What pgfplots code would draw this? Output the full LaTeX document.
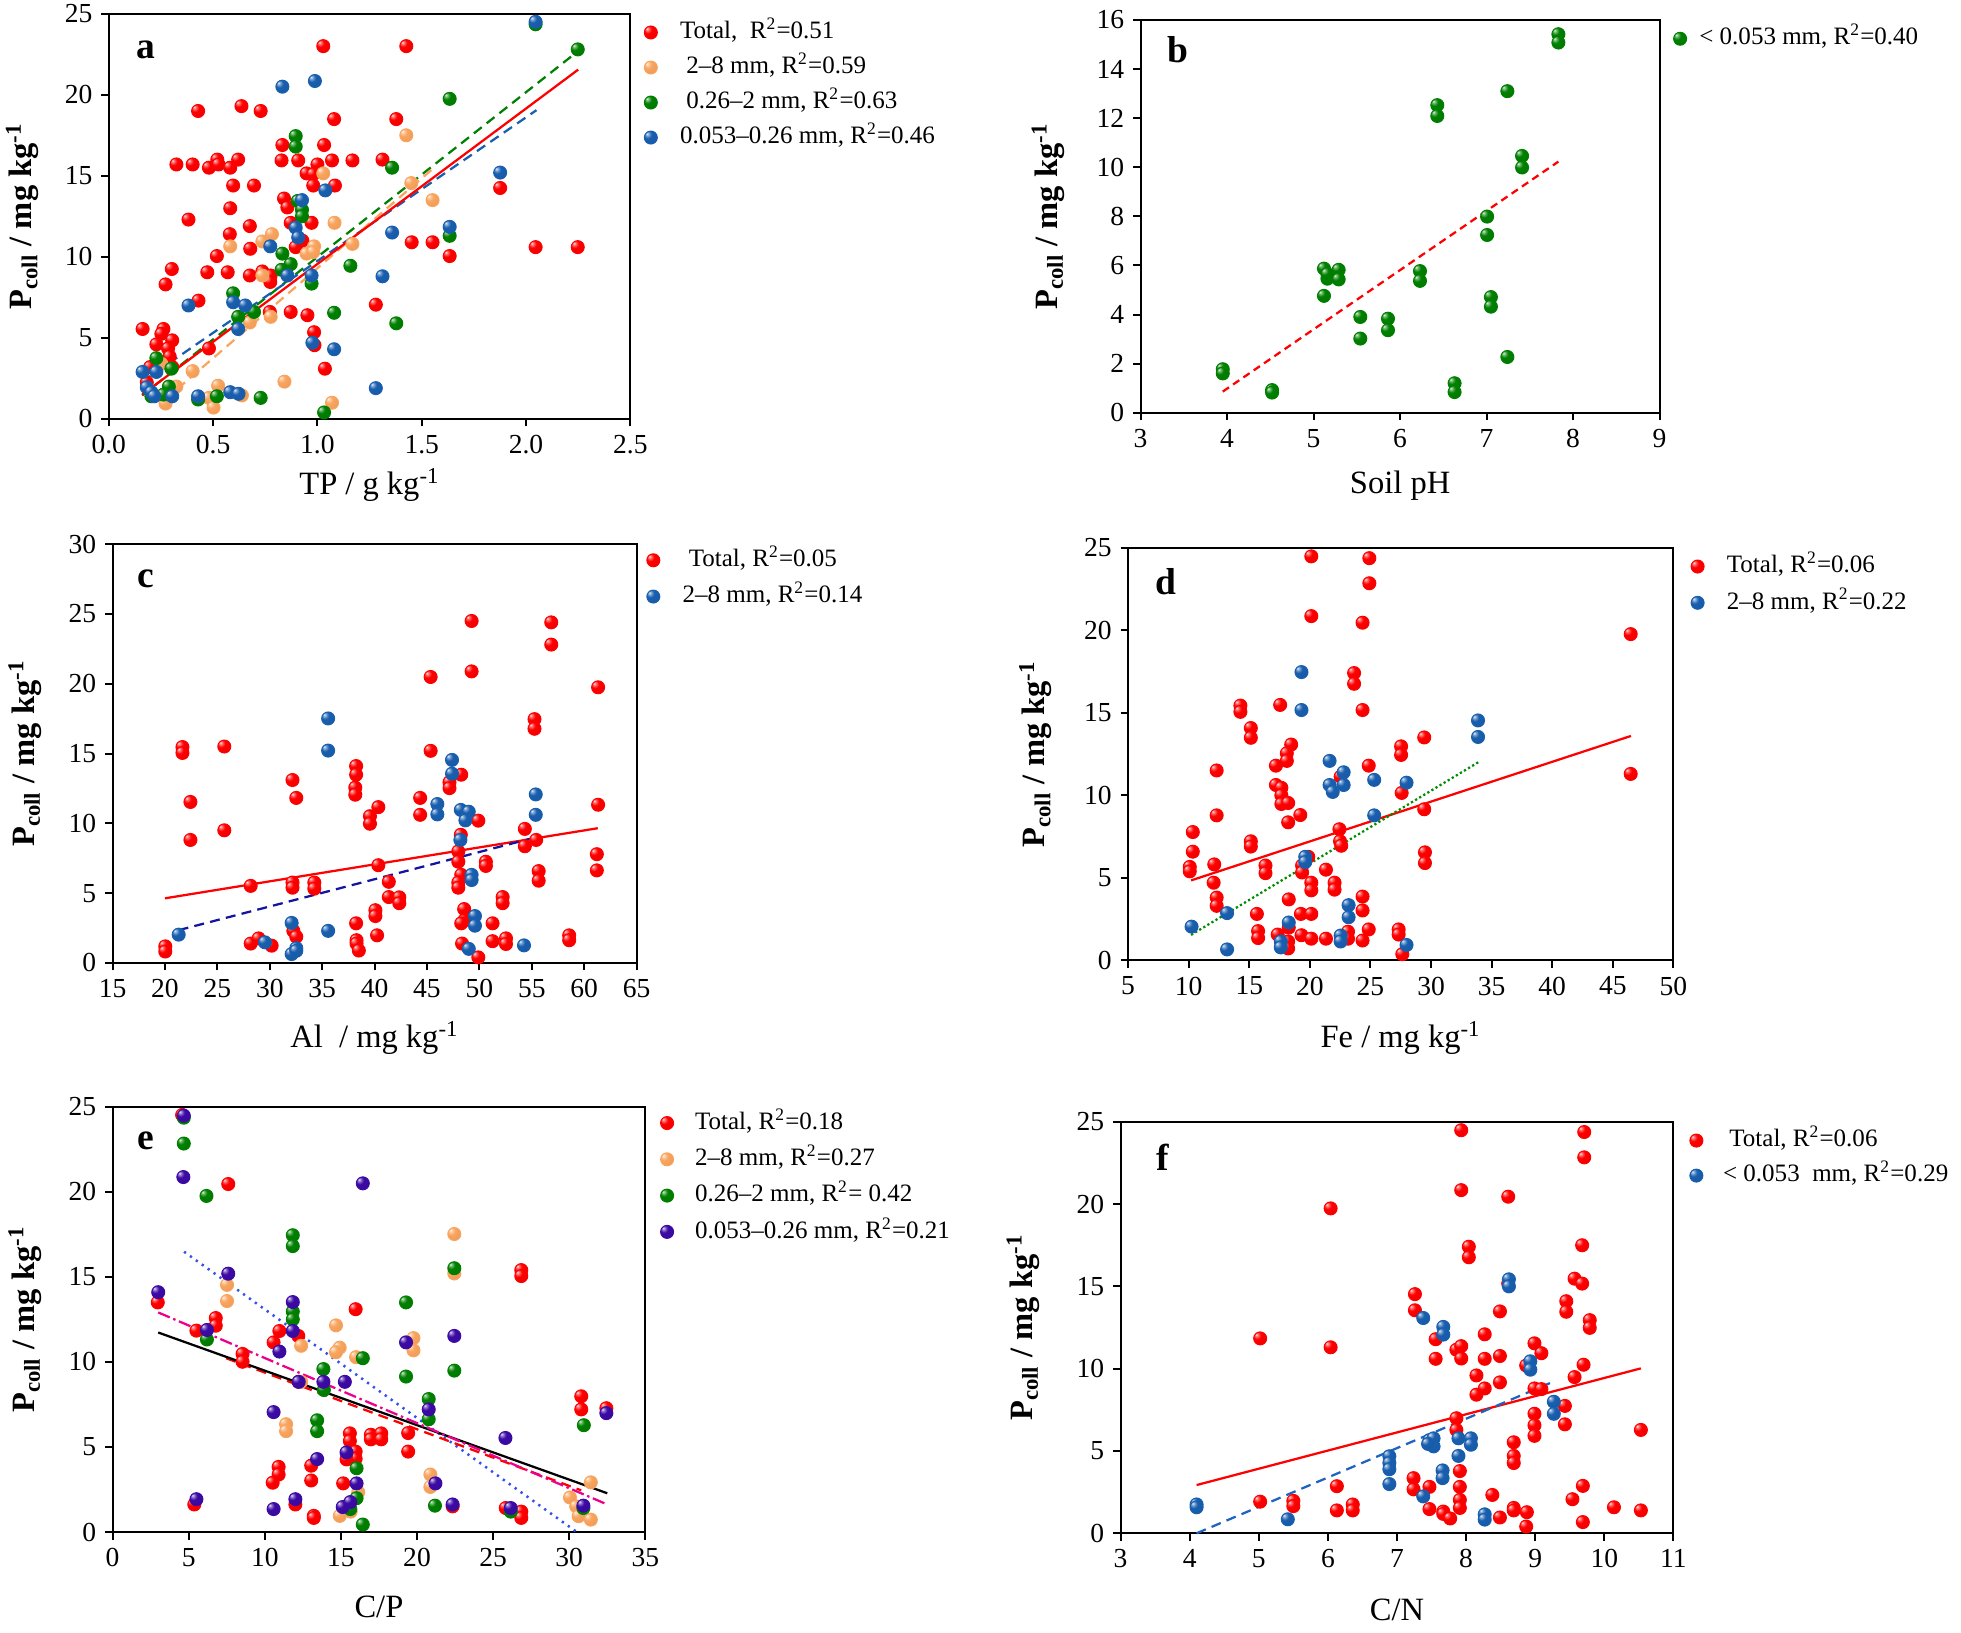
\documentclass[border=0pt]{standalone}
\usepackage{pgfplots}
\pgfplotsset{compat=1.18}
\usepackage{fontspec}
\setmainfont{Liberation Serif}
\makeatletter
\pgfdeclareradialshading[tikz@ball]{ball}{\pgfqpoint{-15bp}{15bp}}{color(0bp)=(tikz@ball!12!white); color(6bp)=(tikz@ball!55!white); color(15bp)=(tikz@ball); color(40bp)=(tikz@ball!93!black); color(60bp)=(tikz@ball!78!black); color(80bp)=(tikz@ball!72!black)}
\makeatother
\definecolor{cR}{RGB}{255,0,0}
\definecolor{cO}{RGB}{250,165,95}
\definecolor{cG}{RGB}{0,128,0}
\definecolor{cB}{RGB}{25,95,175}
\definecolor{cP}{RGB}{60,10,165}
\definecolor{lNavy}{RGB}{20,20,160}
\definecolor{lGreen}{RGB}{0,140,0}
\definecolor{lBlueE}{RGB}{50,80,235}
\definecolor{lBlueF}{RGB}{30,100,190}
\pgfplotsset{
  panel/.style={scale only axis, axis line style={line width=0.8pt},
    tick align=outside, tick pos=left, major tick length=3pt,
    tick style={line width=0.8pt, black},
    /pgf/number format/assume math mode=true,
    tick label style={font=\fontsize{11}{13}\selectfont},
    xlabel style={font=\fontsize{13}{15}\selectfont, anchor=center},
    ylabel style={font=\bfseries\fontsize{13}{15}\selectfont, anchor=center},
    legend cell align=left,
    legend style={draw=none, fill=none, anchor=north west, inner sep=0pt, outer sep=0pt,
      font=\fontsize{10}{12}\selectfont, row sep=5pt, column sep=8.5pt,
      nodes={inner sep=0pt, text height=7pt, text depth=2pt}},
    clip=false},
  scat/.style={only marks, mark=ball, mark size=2.6pt, color=#1, mark options={ball color=#1},
    legend image code/.code={\draw[##1] plot coordinates {(0pt,0pt)}; \path (-3pt,0pt) (3pt,0pt);}},
  fit/.style={no marks, line width=0.9pt, color=#1, forget plot},
}
\begin{document}
\begin{tikzpicture}
\useasboundingbox (0,0) rectangle (784pt,652.5pt);
% ---------------- a
\begin{axis}[panel, at={(43.5pt,485pt)}, anchor=south west, width=208.5pt, height=162pt,
  xmin=0, xmax=2.5, ymin=0, ymax=25, xtick={0,0.5,...,2.5}, ytick={0,5,...,25},
  xticklabel style={/pgf/number format/.cd, fixed, fixed zerofill, precision=1},
  xlabel={TP / g kg\textsuperscript{-1}}, ylabel={P\textsubscript{coll} / mg kg\textsuperscript{-1}},
  xlabel style={at={([yshift=-26.5pt]rel axis cs:0.5,0)}},
  ylabel style={at={([xshift=-34.5pt]rel axis cs:0,0.5)}},
  legend style={at={(1,1)}, xshift=5pt, yshift=-3pt}]
\addplot[scat=cR] coordinates {(1.028,23.0)(1.426,23.0)(0.636,19.3)(0.728,19.0)(0.428,19.0)(1.08,18.5)(1.378,18.5)(0.832,16.9)(1.032,16.9)(0.324,15.7)(0.402,15.7)(0.48,15.5)(0.52,16.0)(0.526,15.7)(0.582,15.5)(0.62,16.0)(0.828,15.95)(0.908,15.95)(1.0,15.7)(1.07,15.95)(1.168,15.95)(1.312,16.0)(0.948,15.15)(0.98,15.1)(0.596,14.4)(0.696,14.4)(0.98,14.4)(1.084,14.4)(0.84,13.6)(0.856,13.05)(0.582,13.0)(0.382,12.3)(0.972,12.1)(0.872,12.1)(0.676,11.9)(0.58,11.4)(0.928,11.0)(0.896,10.6)(0.678,10.5)(1.452,10.9)(1.552,10.9)(1.634,10.05)(2.046,10.6)(2.248,10.6)(1.876,14.25)(0.518,10.05)(0.302,9.25)(0.472,9.05)(0.57,9.05)(0.736,9.1)(0.776,8.85)(0.676,8.85)(0.774,8.45)(0.272,8.3)(0.43,7.3)(0.772,6.6)(0.872,6.6)(0.952,6.4)(1.28,7.05)(0.984,5.35)(0.986,4.55)(1.036,3.1)(0.162,5.55)(0.262,5.55)(0.252,5.25)(0.228,4.6)(0.304,4.85)(0.284,4.35)(0.292,3.85)(0.48,4.35)(0.198,3.2)(0.304,3.2)(0.182,2.25)};
\addlegendentry{Total,\ \ R\textsuperscript{2}=0.51}
\addplot[scat=cO] coordinates {(1.426,17.5)(1.028,15.15)(1.45,14.55)(1.552,13.5)(1.082,12.1)(0.736,10.95)(0.782,11.4)(0.582,10.65)(0.984,10.65)(0.948,10.2)(0.98,10.3)(1.168,10.8)(0.736,8.85)(0.776,6.3)(0.676,5.95)(0.402,2.95)(0.842,2.3)(0.524,2.05)(0.324,2.0)(0.638,1.45)(0.48,1.3)(0.502,0.7)(0.272,0.95)(1.07,1.0)(0.252,3.4)};
\addlegendentry{\ 2--8 mm, R\textsuperscript{2}=0.59}
\addplot[scat=cG] coordinates {(2.248,22.8)(2.046,24.35)(1.634,19.75)(0.896,17.45)(0.896,16.8)(1.358,15.5)(0.906,13.45)(0.926,12.9)(0.926,12.5)(0.832,10.2)(0.872,9.55)(0.828,9.2)(1.158,9.45)(0.972,8.35)(0.596,7.75)(1.634,11.3)(0.62,6.3)(0.696,6.6)(1.08,6.55)(1.378,5.9)(0.228,3.75)(0.288,2.0)(0.262,1.5)(0.204,1.4)(0.518,1.4)(0.728,1.3)(0.428,1.2)(1.032,0.4)(0.3,3.1)};
\addlegendentry{\ 0.26--2 mm, R\textsuperscript{2}=0.63}
\addplot[scat=cB] coordinates {(2.046,24.5)(0.988,20.85)(0.832,20.5)(1.876,15.2)(1.038,14.1)(0.926,13.5)(1.358,11.5)(1.634,11.85)(0.896,11.8)(0.908,11.2)(0.774,10.65)(0.856,8.85)(0.972,8.85)(1.312,8.8)(0.596,7.2)(0.654,7.0)(0.382,7.0)(0.62,5.55)(0.976,4.7)(1.08,4.3)(0.162,2.9)(0.228,2.9)(1.28,1.9)(0.182,1.95)(0.204,1.65)(0.218,1.4)(0.304,1.4)(0.428,1.4)(0.582,1.65)(0.622,1.55)};
\addlegendentry{0.053--0.26 mm, R\textsuperscript{2}=0.46}
\addplot[fit=cG, dashed, dash pattern=on 4pt off 2.5pt] coordinates {(0.16,1.45)(2.25,22.7)};
\addplot[fit=cB, dashed, dash pattern=on 4pt off 2.5pt] coordinates {(0.16,2.3)(2.05,19.05)};
\addplot[fit=cO, dashed, dash pattern=on 4pt off 2.5pt] coordinates {(0.27,1.2)(1.55,15.4)};
\addplot[fit=cR] coordinates {(0.16,1.5)(2.25,21.55)};
\node[font=\bfseries\fontsize{15}{17}\selectfont] at (rel axis cs:0.072,0.91) {a};
\end{axis}
% ---------------- b
\begin{axis}[panel, at={(456pt,487.5pt)}, anchor=south west, width=207.5pt, height=157pt,
  xmin=3, xmax=9, ymin=0, ymax=16, xtick={3,...,9}, ytick={0,2,...,16},
  xlabel={Soil pH}, ylabel={P\textsubscript{coll} / mg kg\textsuperscript{-1}},
  xlabel style={at={([yshift=-29pt]rel axis cs:0.5,0)}},
  ylabel style={at={([xshift=-37pt]rel axis cs:0,0.5)}},
  legend style={at={(1,1)}, xshift=5pt, yshift=-3pt, column sep=4.5pt}]
\addplot[scat=cG] coordinates {(7.83,15.42)(7.83,15.08)(7.24,13.1)(6.43,12.53)(6.43,12.09)(7.41,10.46)(7.41,9.99)(7.006,7.99)(7.006,7.24)(5.12,5.87)(5.12,4.76)(5.16,5.46)(5.16,5.65)(5.29,5.82)(5.29,5.43)(6.23,5.77)(6.23,5.37)(7.05,4.71)(7.05,4.32)(5.54,3.9)(5.54,3.02)(5.86,3.83)(5.86,3.36)(7.24,2.27)(3.95,1.77)(3.95,1.6)(4.52,0.92)(4.52,0.82)(6.63,1.2)(6.63,0.84)};
\addlegendentry{< 0.053 mm, R\textsuperscript{2}=0.40}
\addplot[fit=cR, dashed, dash pattern=on 3pt off 2pt] coordinates {(3.95,0.86)(7.83,10.23)};
\node[font=\bfseries\fontsize{15}{17}\selectfont] at (rel axis cs:0.072,0.924) {b};
\end{axis}
% ---------------- c
\begin{axis}[panel, at={(45pt,267.5pt)}, anchor=south west, width=209.5pt, height=167.5pt,
  xmin=15, xmax=65, ymin=0, ymax=30, xtick={15,20,...,65}, ytick={0,5,...,30},
  xlabel={Al\ \ / mg kg\textsuperscript{-1}}, ylabel={P\textsubscript{coll} / mg kg\textsuperscript{-1}},
  xlabel style={at={([yshift=-30pt]rel axis cs:0.5,0)}},
  ylabel style={at={([xshift=-35pt]rel axis cs:0,0.5)}},
  legend style={at={(1,1)}, xshift=3.5pt, yshift=-2pt, row sep=5.5pt}]
\addplot[scat=cR] coordinates {(20.03,1.19)(20.03,0.82)(21.67,15.46)(21.67,15.04)(22.43,11.53)(22.43,8.81)(25.66,15.5)(25.66,9.5)(28.18,5.52)(28.18,1.39)(28.94,1.76)(30.18,1.24)(32.17,13.1)(32.53,11.82)(32.17,5.76)(32.17,5.39)(32.25,2.3)(32.53,1.88)(34.25,5.76)(34.25,5.32)(38.24,14.1)(38.24,13.48)(38.16,12.56)(38.16,12.05)(38.24,2.84)(38.28,1.63)(38.28,1.39)(38.5,0.89)(39.56,10.51)(39.56,9.97)(40.36,11.16)(40.36,7.0)(40.08,3.78)(40.08,3.36)(40.24,1.98)(41.36,5.81)(41.36,4.72)(42.36,4.7)(42.36,4.28)(44.35,11.82)(44.35,10.61)(45.35,20.48)(45.35,15.19)(47.15,12.94)(47.15,12.52)(48.27,13.48)(48.23,9.18)(47.99,7.99)(47.99,7.25)(48.27,6.31)(47.99,5.76)(47.99,5.39)(48.55,3.86)(48.55,3.04)(48.27,2.84)(48.35,1.39)(49.26,24.49)(49.26,20.88)(49.9,10.19)(49.9,0.4)(50.62,7.25)(50.62,6.95)(51.26,2.84)(51.26,1.56)(52.22,4.72)(52.22,4.28)(52.54,1.76)(52.54,1.36)(54.34,9.6)(54.34,8.36)(55.42,8.81)(55.26,17.46)(55.26,16.77)(55.66,6.58)(55.66,5.89)(56.86,24.39)(56.86,22.8)(58.57,1.98)(58.57,1.63)(61.33,19.74)(61.33,11.33)(61.21,7.79)(61.21,6.63)};
\addlegendentry{\ Total, R\textsuperscript{2}=0.05}
\addplot[scat=cB] coordinates {(21.31,2.03)(29.54,1.48)(32.09,2.87)(32.09,0.64)(32.53,1.06)(32.53,0.87)(35.57,17.51)(35.57,15.21)(35.57,2.3)(45.99,11.38)(45.99,10.64)(47.39,14.54)(47.39,13.55)(48.23,10.96)(48.99,10.83)(48.67,10.21)(48.19,8.81)(49.26,6.31)(49.26,5.94)(49.58,3.36)(49.58,2.67)(48.99,1.01)(54.26,1.26)(55.38,12.07)(55.38,10.61)};
\addlegendentry{2--8 mm, R\textsuperscript{2}=0.14}
\addplot[fit=cR] coordinates {(20.0,4.63)(61.3,9.65)};
\addplot[fit=lNavy, dashed, dash pattern=on 4pt off 2.5pt] coordinates {(21.3,2.35)(55.3,8.98)};
\node[font=\bfseries\fontsize{15}{17}\selectfont] at (rel axis cs:0.064,0.916) {c};
\end{axis}
% ---------------- d
\begin{axis}[panel, at={(451pt,268.5pt)}, anchor=south west, width=218pt, height=165pt,
  xmin=5, xmax=50, ymin=0, ymax=25, xtick={5,10,...,50}, ytick={0,5,...,25},
  xlabel={Fe / mg kg\textsuperscript{-1}}, ylabel={P\textsubscript{coll} / mg kg\textsuperscript{-1}},
  xlabel style={at={([yshift=-31pt]rel axis cs:0.5,0)}},
  ylabel style={at={([xshift=-37pt]rel axis cs:0,0.5)}},
  legend style={at={(1,1)}, xshift=6.5pt, yshift=-3pt, row sep=5.5pt}]
\addplot[scat=cR] coordinates {(20.12,24.48)(24.91,24.37)(24.91,22.85)(20.12,20.86)(24.35,20.46)(46.48,19.77)(46.48,11.3)(23.65,17.41)(23.65,16.76)(14.27,15.44)(14.27,15.06)(17.55,15.48)(24.35,15.17)(15.13,14.08)(15.13,13.49)(18.46,13.08)(18.1,12.55)(18.1,12.09)(17.2,11.8)(12.31,11.51)(24.86,11.8)(27.53,12.97)(27.53,12.45)(29.44,13.51)(22.54,11.13)(17.2,10.63)(17.65,10.46)(17.65,10.0)(17.65,9.48)(18.21,9.54)(19.21,8.81)(18.21,8.37)(12.31,8.79)(27.58,10.15)(29.44,9.16)(10.34,7.78)(10.34,6.59)(22.44,7.95)(22.49,7.22)(22.59,6.95)(15.13,7.22)(15.13,6.9)(10.09,5.67)(10.09,5.4)(12.11,5.82)(16.34,5.75)(16.34,5.29)(19.36,5.75)(19.36,5.33)(19.87,6.28)(21.33,5.5)(12.06,4.71)(20.12,4.71)(20.12,4.25)(22.04,4.71)(22.04,4.29)(12.31,3.81)(12.31,3.31)(18.26,3.7)(24.35,3.87)(29.5,6.55)(29.5,5.9)(15.63,2.82)(19.26,2.82)(20.12,2.82)(24.35,3.03)(15.73,1.78)(15.73,1.36)(17.35,1.57)(18.26,1.99)(18.21,1.15)(18.21,0.73)(19.31,1.53)(20.12,1.32)(21.33,1.32)(23.15,1.74)(23.15,1.32)(24.35,1.21)(24.86,1.88)(27.33,1.88)(27.33,1.57)(27.63,0.38)};
\addlegendentry{Total, R\textsuperscript{2}=0.06}
\addplot[scat=cB] coordinates {(19.31,17.47)(19.31,15.17)(33.88,14.54)(33.88,13.54)(21.63,12.09)(22.79,11.4)(22.79,10.63)(21.63,10.63)(21.89,10.21)(25.31,10.94)(27.98,10.77)(25.31,8.79)(19.62,6.28)(19.62,5.96)(23.2,3.35)(23.2,2.62)(18.26,2.3)(10.24,2.05)(13.17,2.87)(13.17,0.67)(17.6,1.15)(17.6,0.79)(22.54,1.51)(22.54,1.15)(27.98,0.94)};
\addlegendentry{2--8 mm, R\textsuperscript{2}=0.22}
\addplot[fit=cR] coordinates {(10.2,4.85)(46.5,13.6)};
\addplot[fit=lGreen, densely dotted] coordinates {(10.2,1.55)(34.0,12.05)};
\node[font=\bfseries\fontsize{15}{17}\selectfont] at (rel axis cs:0.069,0.918) {d};
\end{axis}
% ---------------- e
\begin{axis}[panel, at={(45pt,40pt)}, anchor=south west, width=213pt, height=170pt,
  xmin=0, xmax=35, ymin=0, ymax=25, xtick={0,5,...,35}, ytick={0,5,...,25},
  xlabel={C/P}, ylabel={P\textsubscript{coll} / mg kg\textsuperscript{-1}},
  xlabel style={at={([yshift=-30pt]rel axis cs:0.5,0)}},
  ylabel style={at={([xshift=-35pt]rel axis cs:0,0.5)}},
  legend style={at={(1,1)}, xshift=5.5pt, yshift=-2pt, row sep=5.5pt, column sep=8pt}]
\addplot[scat=cR] coordinates {(4.57,24.52)(7.6,20.46)(2.97,13.5)(5.51,11.84)(6.78,12.58)(6.78,12.13)(8.54,10.47)(8.54,10.01)(10.58,11.15)(10.96,11.82)(12.2,11.53)(15.97,13.1)(26.85,15.4)(26.85,15.05)(30.79,7.98)(30.79,7.21)(32.44,7.28)(15.59,5.8)(15.59,5.35)(15.97,4.73)(15.97,4.31)(15.37,4.27)(16.97,5.72)(16.97,5.45)(17.65,5.8)(17.65,5.45)(19.42,5.82)(19.42,4.73)(10.91,3.83)(10.91,3.38)(10.52,2.9)(13.05,3.9)(13.05,3.03)(15.15,2.86)(13.22,0.95)(13.22,0.83)(5.37,1.62)(12.01,1.62)(22.34,1.51)(25.83,1.41)(26.85,1.2)(26.85,0.83)(12.23,8.83)};
\addlegendentry{Total, R\textsuperscript{2}=0.18}
\addplot[scat=cO] coordinates {(22.45,17.52)(22.45,15.2)(7.52,14.53)(7.52,13.58)(14.68,12.15)(14.92,10.84)(14.68,10.57)(16.0,10.28)(19.77,11.4)(19.77,10.68)(12.39,10.95)(11.4,6.34)(11.4,5.93)(12.39,8.83)(20.88,3.38)(20.88,2.65)(16.14,2.34)(15.64,1.2)(14.93,0.95)(30.05,2.03)(30.46,1.51)(30.62,0.93)(31.42,0.73)(31.42,2.92)};
\addlegendentry{2--8 mm, R\textsuperscript{2}=0.27}
\addplot[scat=cG] coordinates {(4.68,24.36)(4.68,22.84)(6.17,19.76)(11.84,17.45)(11.84,16.81)(11.84,12.96)(11.84,12.5)(19.28,13.5)(22.45,15.51)(6.2,11.32)(16.44,10.22)(13.85,9.58)(22.45,9.49)(19.28,9.14)(13.88,8.35)(20.77,7.82)(20.77,6.63)(13.44,6.57)(13.44,5.93)(30.96,6.28)(16.03,3.75)(16.03,1.99)(15.62,1.35)(21.18,1.55)(26.16,1.2)(30.93,1.41)(16.44,0.44)};
\addlegendentry{0.26--2 mm, R\textsuperscript{2}= 0.42}
\addplot[scat=cP] coordinates {(4.68,24.48)(4.65,20.87)(16.44,20.5)(7.6,15.19)(3.0,14.1)(11.84,13.52)(11.84,11.82)(6.2,11.88)(10.96,10.61)(19.28,11.15)(22.45,11.53)(12.23,8.83)(13.85,8.83)(15.26,8.83)(10.58,7.05)(20.77,7.21)(32.44,6.99)(25.81,5.53)(15.37,4.68)(13.44,4.29)(16.03,2.86)(21.21,2.86)(5.51,1.93)(12.01,1.93)(10.58,1.35)(15.12,1.47)(15.62,1.76)(22.34,1.62)(26.16,1.41)(30.93,1.55)};
\addlegendentry{0.053--0.26 mm, R\textsuperscript{2}=0.21}
\addplot[fit=lBlueE, dotted, line width=1pt] coordinates {(4.7,16.48)(30.5,0.0)};
\addplot[fit=cR, dashed, dash pattern=on 4pt off 2.5pt] coordinates {(7.46,10.22)(30.79,2.45)};
\addplot[fit=black] coordinates {(3.0,11.73)(32.5,2.28)};
\addplot[fit=magenta, dash pattern=on 5pt off 1.5pt on 1pt off 1.5pt] coordinates {(3.0,12.91)(32.5,1.62)};
\node[font=\bfseries\fontsize{15}{17}\selectfont] at (rel axis cs:0.063,0.92) {e};
\end{axis}
% ---------------- f
\begin{axis}[panel, at={(448pt,39.5pt)}, anchor=south west, width=221pt, height=164.5pt,
  xmin=3, xmax=11, ymin=0, ymax=25, xtick={3,...,11}, ytick={0,5,...,25},
  xlabel={C/N}, ylabel={P\textsubscript{coll} / mg kg\textsuperscript{-1}},
  xlabel style={at={([yshift=-30.5pt]rel axis cs:0.5,0)}},
  ylabel style={at={([xshift=-39pt]rel axis cs:0,0.5)}},
  legend style={at={(1,1)}, xshift=6pt, yshift=-3pt, column sep=7.5pt}]
\addplot[scat=cR] coordinates {(7.93,24.49)(9.71,24.38)(9.71,22.84)(7.93,20.85)(8.61,20.45)(6.04,19.74)(8.04,17.41)(8.04,16.77)(9.68,17.5)(9.57,15.47)(9.68,15.17)(8.61,15.17)(7.26,14.53)(7.26,13.55)(8.49,13.48)(9.45,14.1)(9.45,13.46)(9.79,12.95)(9.79,12.48)(5.02,11.84)(6.04,11.3)(8.27,12.09)(7.56,11.79)(7.56,10.6)(7.86,11.15)(7.93,11.37)(7.93,10.62)(8.27,10.6)(8.49,10.77)(8.99,11.54)(9.09,10.94)(8.87,10.19)(9.7,10.24)(8.15,9.59)(8.49,9.17)(9.57,9.49)(8.15,8.42)(8.27,8.8)(8.99,8.8)(9.09,8.76)(7.86,6.99)(7.86,6.28)(9.43,7.74)(8.99,7.26)(8.99,6.56)(8.99,5.92)(9.43,6.62)(10.53,6.28)(8.69,5.53)(8.69,4.7)(8.69,4.27)(7.91,3.78)(6.13,2.86)(7.24,3.35)(7.24,2.67)(7.47,2.82)(7.91,2.82)(8.38,2.33)(9.69,2.88)(9.54,2.07)(5.02,1.92)(5.5,1.97)(5.5,1.65)(6.13,1.39)(6.36,1.75)(6.36,1.39)(7.47,1.47)(7.67,1.32)(7.67,1.18)(7.77,0.9)(7.91,2.03)(7.91,1.54)(8.49,0.96)(8.69,1.54)(8.69,1.39)(8.88,1.28)(8.87,0.41)(9.69,0.68)(10.14,1.58)(10.53,1.39)};
\addlegendentry{\ Total, R\textsuperscript{2}=0.06}
\addplot[scat=cB] coordinates {(8.62,15.43)(8.62,15.0)(7.38,13.08)(7.67,12.54)(7.67,12.07)(8.93,10.45)(8.93,9.94)(9.27,7.99)(9.27,7.26)(7.47,5.66)(7.53,5.77)(7.53,5.28)(7.45,5.43)(7.89,5.77)(8.07,5.77)(8.07,5.38)(7.89,4.7)(6.89,4.68)(6.89,4.27)(6.89,3.89)(6.89,2.99)(7.66,3.82)(7.66,3.35)(7.38,2.24)(8.27,1.15)(8.27,0.83)(5.42,0.85)(4.1,1.75)(4.1,1.58)};
\addlegendentry{< 0.053\ \ mm, R\textsuperscript{2}=0.29}
\addplot[fit=cR] coordinates {(4.1,2.93)(10.53,10.02)};
\addplot[fit=lBlueF, dashed, dash pattern=on 4pt off 2.5pt] coordinates {(4.1,0.0)(9.25,9.19)};
\node[font=\bfseries\fontsize{15}{17}\selectfont] at (rel axis cs:0.077,0.915) {f};
\end{axis}
\end{tikzpicture}
\end{document}
